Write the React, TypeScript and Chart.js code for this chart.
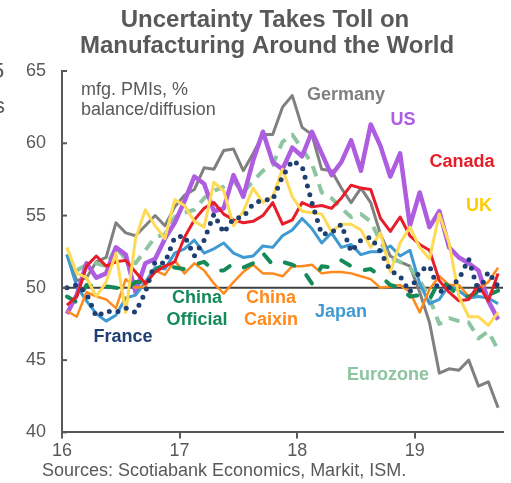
import React, { useEffect, useRef } from "react";
import { Chart, registerables, Plugin } from "chart.js";

Chart.register(...registerables);

// Manufacturing PMIs, monthly, Jan 2016 – Sep 2019
const startYear = 16;
const monthCount = 45;

const germany = [52.3, 50.5, 50.7, 51.8, 52.1, 54.5, 53.8, 53.6, 54.3, 55.0, 54.3, 55.6,
  56.4, 56.8, 58.3, 58.2, 59.5, 59.6, 58.1, 59.3, 60.6, 60.6, 62.5, 63.3,
  61.1, 60.6, 58.2, 58.1, 56.9, 55.9, 56.9, 55.9, 53.7, 52.2, 51.8, 51.5,
  49.7, 47.6, 44.1, 44.4, 44.3, 45.0, 43.2, 43.5, 41.7];
const us = [48.2, 49.5, 51.7, 50.7, 51.0, 52.8, 52.3, 49.7, 51.7, 52.0, 53.4, 54.5,
  56.0, 57.7, 57.2, 55.3, 55.5, 57.8, 56.3, 58.8, 60.8, 58.7, 58.2, 59.7,
  59.1, 60.8, 59.3, 57.8, 58.7, 60.2, 58.1, 61.3, 59.8, 57.7, 59.3, 54.3,
  56.6, 54.2, 55.3, 52.8, 52.1, 51.7, 51.2, 49.1, 47.8];
const canada = [48.8, 49.4, 51.5, 52.2, 51.5, 51.8, 51.9, 51.1, 50.3, 51.1, 51.5, 51.8,
  53.5, 54.7, 55.5, 55.9, 55.1, 54.7, 54.5, 54.6, 55.0, 55.9, 54.4, 54.7,
  55.9, 55.6, 55.7, 55.5, 56.2, 57.1, 56.9, 56.8, 54.8, 53.9, 54.9, 53.6,
  53.0, 52.6, 50.5, 49.7, 49.1, 49.2, 50.2, 49.1, 51.0];
const uk = [52.8, 51.0, 50.7, 49.4, 50.4, 52.4, 48.3, 53.4, 55.4, 54.3, 53.4, 56.1,
  55.7, 54.6, 54.2, 57.3, 56.7, 54.3, 55.3, 56.9, 55.9, 56.3, 58.2, 56.3,
  55.3, 55.2, 55.1, 53.9, 54.4, 54.4, 54.0, 52.8, 53.8, 51.1, 53.1, 54.2,
  52.8, 52.0, 55.1, 53.1, 49.4, 48.0, 48.0, 47.4, 48.3];
const eurozone = [52.3, 51.2, 51.6, 51.7, 51.5, 52.8, 52.0, 51.7, 52.6, 53.5, 53.7, 54.9,
  55.2, 55.4, 56.2, 56.7, 57.0, 57.4, 56.6, 57.4, 58.1, 58.5, 60.1, 60.6,
  59.6, 58.6, 56.6, 56.2, 55.5, 54.9, 55.1, 54.6, 53.2, 52.0, 51.8, 51.4,
  50.5, 49.3, 47.5, 47.9, 47.7, 47.6, 46.5, 47.0, 45.7];
const france = [50.0, 50.2, 49.6, 48.0, 48.4, 48.3, 48.6, 48.3, 49.7, 51.8, 51.7, 53.5,
  53.6, 52.2, 53.3, 55.1, 53.8, 54.8, 54.9, 55.8, 56.1, 56.1, 57.7, 58.8,
  58.4, 55.9, 53.7, 53.8, 54.4, 52.5, 53.3, 53.5, 52.5, 51.2, 50.8, 49.7,
  51.2, 51.5, 49.7, 50.0, 50.6, 52.0, 49.7, 51.1, 50.1];
const chinaOfficial = [49.4, 49.0, 50.2, 50.1, 50.1, 50.0, 49.9, 50.4, 50.4, 51.2, 51.7, 51.4,
  51.3, 51.6, 51.8, 51.2, 51.2, 51.7, 51.4, 51.7, 52.4, 51.6, 51.8, 51.6,
  51.3, 50.3, 51.5, 51.4, 51.9, 51.5, 51.2, 51.3, 50.8, 50.2, 50.0, 49.4,
  49.5, 49.2, 50.5, 50.1, 49.4, 49.4, 49.7, 49.5, 49.8];
const chinaCaixin = [48.4, 48.0, 49.7, 49.4, 49.2, 48.6, 50.6, 50.0, 50.1, 51.2, 50.9, 51.9,
  51.0, 51.7, 51.2, 50.3, 49.6, 50.4, 51.1, 51.6, 51.0, 51.0, 50.8, 51.5,
  51.5, 51.6, 51.0, 51.1, 51.1, 51.0, 50.8, 50.6, 50.0, 50.1, 50.2, 49.7,
  48.3, 49.9, 50.8, 50.2, 50.2, 49.4, 49.9, 50.4, 51.4];
const japan = [52.3, 50.1, 49.1, 48.2, 47.7, 48.1, 49.3, 49.5, 50.4, 51.4, 51.3, 52.4,
  52.7, 53.3, 52.4, 52.7, 53.1, 52.4, 52.1, 52.2, 52.9, 52.8, 53.6, 54.0,
  54.8, 54.1, 53.1, 53.8, 52.8, 53.0, 52.3, 52.5, 52.5, 52.9, 52.2, 52.6,
  50.3, 48.9, 49.2, 50.2, 49.8, 49.3, 49.4, 49.3, 48.9];

const yearTicks = [16, 17, 18, 19];
const yTicks = [40, 45, 50, 55, 60, 65];

const titleLines = ["Uncertainty Takes Toll on", "Manufacturing Around the World"];
const unitLines = ["mfg. PMIs, %", "balance/diffusion"];
const sourceText = "Sources: Scotiabank Economics, Markit, ISM.";

// each month sits at its mid-point on a year axis
const monthPos = (i: number) => startYear + (i + 0.5) / 12;
const toPoints = (vals: number[]) =>
  vals.slice(0, monthCount).map((y, i) => ({ x: monthPos(i), y }));

const GRAY = "#595959";
const FONT = "'Liberation Sans', Arial, sans-serif";

type SeriesLabel = { lines: string[]; x: number; y: number; color: string };
const seriesLabels: SeriesLabel[] = [
  { lines: ["Germany"], x: 346, y: 95, color: "#808080" },
  { lines: ["US"], x: 403, y: 120, color: "#AE5CE0" },
  { lines: ["Canada"], x: 462, y: 162, color: "#E71D2A" },
  { lines: ["UK"], x: 479, y: 206, color: "#FFCC00" },
  { lines: ["China", "Official"], x: 197, y: 298, color: "#138A58" },
  { lines: ["China", "Caixin"], x: 271, y: 298, color: "#FF8A1C" },
  { lines: ["Japan"], x: 341, y: 312, color: "#3F9AD2" },
  { lines: ["France"], x: 123, y: 337, color: "#1F3F73" },
  { lines: ["Eurozone"], x: 388, y: 375, color: "#8CC5A0" },
];

const fiftyLine: Plugin = {
  id: "fiftyLine",
  beforeDatasetsDraw(chart) {
    const { ctx, chartArea, scales } = chart;
    const y = scales.y.getPixelForValue(50);
    ctx.save();
    ctx.strokeStyle = "#404040";
    ctx.lineWidth = 2;
    ctx.beginPath();
    ctx.moveTo(chartArea.left, y);
    ctx.lineTo(chartArea.right, y);
    ctx.stroke();
    ctx.restore();
  },
};

const annotations: Plugin = {
  id: "annotations",
  afterDraw(chart) {
    const { ctx, chartArea, scales } = chart;
    ctx.save();
    // inward y-axis ticks
    ctx.strokeStyle = GRAY;
    ctx.lineWidth = 2;
    yTicks.forEach((v) => {
      const y = scales.y.getPixelForValue(v);
      ctx.beginPath();
      ctx.moveTo(chartArea.left, y);
      ctx.lineTo(chartArea.left + 5, y);
      ctx.stroke();
    });

    // title
    ctx.fillStyle = GRAY;
    ctx.textAlign = "center";
    ctx.textBaseline = "alphabetic";
    ctx.font = `bold 24px ${FONT}`;
    ctx.fillText(titleLines[0], 265, 27);
    ctx.fillText(titleLines[1], 267, 53);

    // clipped glyphs at the left edge
    ctx.textAlign = "left";
    ctx.font = `22px ${FONT}`;
    ctx.fillText("5", -8, 78);
    ctx.fillText("s", -6, 113);

    // units note
    ctx.font = `18px ${FONT}`;
    ctx.fillText(unitLines[0], 81, 95);
    ctx.fillText(unitLines[1], 81, 115);

    // source line
    ctx.fillText(sourceText, 42, 476);

    // series labels
    ctx.textAlign = "center";
    ctx.textBaseline = "middle";
    ctx.font = `bold 18px ${FONT}`;
    seriesLabels.forEach((l) => {
      ctx.fillStyle = l.color;
      l.lines.forEach((t, k) => ctx.fillText(t, l.x, l.y + k * 22));
    });
    ctx.restore();
  },
};

export default function App() {
  const canvasRef = useRef<HTMLCanvasElement | null>(null);

  useEffect(() => {
    document.body.style.margin = "0";
    const canvas = canvasRef.current;
    if (!canvas) return;

    const line = (
      label: string,
      data: number[],
      color: string,
      width: number,
      order: number,
      extra: Record<string, unknown> = {}
    ) => ({
      label,
      data: toPoints(data),
      borderColor: color,
      backgroundColor: color,
      borderWidth: width,
      pointRadius: 0,
      tension: 0,
      fill: false,
      order,
      borderJoinStyle: "round" as const,
      ...extra,
    });

    const chart = new Chart(canvas, {
      type: "line",
      data: {
        datasets: [
          line("Germany", germany, "#808080", 3, 9),
          line("Eurozone", eurozone, "#8CC5A0", 4, 8, { borderDash: [11, 8] }),
          line("US", us, "#AE5CE0", 4.5, 7),
          line("Japan", japan, "#3F9AD2", 3, 6),
          line("China Caixin", chinaCaixin, "#FF8A1C", 2.5, 5),
          line("China Official", chinaOfficial, "#138A58", 4, 4, {
            borderDash: [10, 16],
            borderCapStyle: "round",
          }),
          line("Canada", canada, "#E71D2A", 3, 3),
          line("UK", uk, "#FFDA55", 3, 2),
          line("France", france, "#1F3F73", 5, 1, {
            borderDash: [0, 9],
            borderCapStyle: "round",
          }),
        ],
      },
      options: {
        responsive: false,
        animation: false,
        devicePixelRatio: 1,
        layout: { padding: { left: 10, right: 8, top: 71, bottom: 19 } },
        plugins: {
          legend: { display: false },
          tooltip: { enabled: false },
          title: { display: false },
        },
        scales: {
          x: {
            type: "linear",
            min: 16,
            max: 19.75,
            afterBuildTicks: (scale) => {
              scale.ticks = yearTicks.map((value) => ({ value }));
            },
            ticks: {
              color: GRAY,
              font: { size: 18, family: FONT },
              padding: 2,
              maxRotation: 0,
              callback: (v) => String(v),
            },
            grid: {
              drawOnChartArea: false,
              drawTicks: true,
              tickLength: 6,
              color: GRAY,
              lineWidth: 2,
            },
            border: { display: true, color: GRAY, width: 2 },
          },
          y: {
            min: 40,
            max: 65,
            afterBuildTicks: (scale) => {
              scale.ticks = yTicks.map((value) => ({ value }));
            },
            ticks: {
              color: GRAY,
              font: { size: 18, family: FONT },
              padding: 16,
            },
            grid: { drawOnChartArea: false, drawTicks: false },
            border: { display: true, color: GRAY, width: 2 },
          },
        },
      },
      plugins: [fiftyLine, annotations],
    });

    return () => chart.destroy();
  }, []);

  return (
    <div style={{ position: "fixed", left: 0, top: 0, width: 511, height: 483, background: "#fff" }}>
      <canvas ref={canvasRef} width={511} height={483} />
    </div>
  );
}
